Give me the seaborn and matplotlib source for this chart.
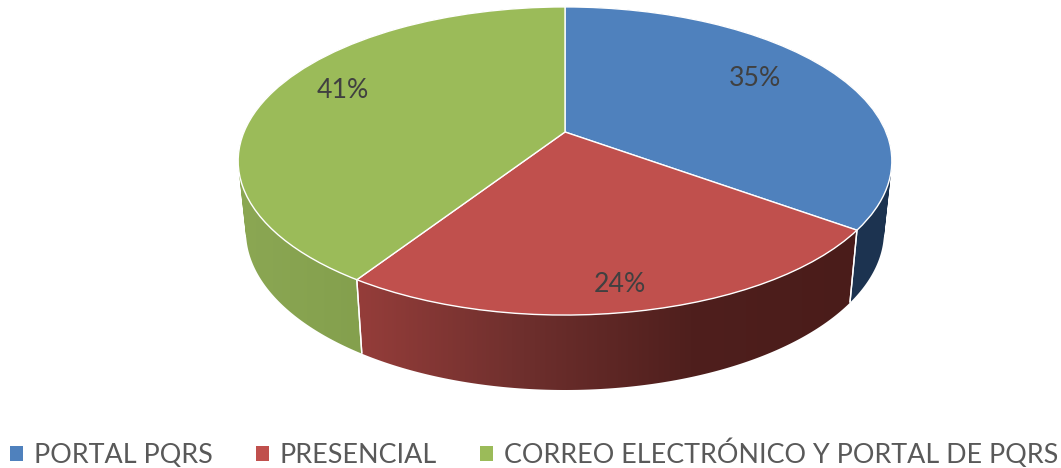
import numpy as np
import matplotlib
matplotlib.use("Agg")
import matplotlib.pyplot as plt
import seaborn as sns
from matplotlib.colors import LinearSegmentedColormap
from matplotlib.patches import Patch, PathPatch
from matplotlib.path import Path
from matplotlib.transforms import Transform

# ---- data ----
categories = ["PORTAL PQRS", "PRESENCIAL", "CORREO ELECTRÓNICO Y PORTAL DE PQRS"]
values = [35.0, 24.2, 40.8]
value_labels = ["35%", "24%", "41%"]
top_colors = ["#4F81BD", "#C0504D", "#9BBB59"]
wall_stops = [["#1D3552", "#1C3350"],
              ["#953D3A", "#6E2F2D", "#4F1F1D", "#4A1C1A"],
              ["#8BA753", "#789444"]]
label_radius = [0.745, 0.87, 0.79]
label_shift_deg = [4.5, -1.0, -5.5]

# ---- view of the tilted disc, in figure pixels ----
CX, CY, SX, SY, K = 565.0, 132.0, 321.0, 148.6, -0.188
LOW_X, LOW_Y, LOW_D = 0.976, 1.03, 69.5


class Tilt(Transform):
    input_dims = output_dims = 2
    is_separable = False
    has_inverse = False
    is_affine = False

    def transform_non_affine(self, pts):
        pts = np.asarray(pts, float)
        u, v = pts[:, 0], -pts[:, 1]
        w = 1 + K * v
        return np.column_stack([CX + SX * u / w, CY + SY * v / w])


sns.set_theme(style="white")
plt.rcParams["font.family"] = ["Lato", "DejaVu Sans"]
palette = sns.color_palette(top_colors)

fig = plt.figure(figsize=(10.61, 4.68), dpi=100)
ax = fig.add_axes([0, 0, 1, 1])
tilt = Tilt()

wedges, _, autotexts = ax.pie(
    values, colors=palette, startangle=90, counterclock=False,
    autopct="%.0f%%", pctdistance=0.8,
    wedgeprops=dict(edgecolor="white", linewidth=1.0, zorder=5),
    textprops=dict(color="#404040", fontsize=19.2, zorder=6),
)
ax.set_aspect("auto")
ax.set_xlim(0, 1061)
ax.set_ylim(468, 0)
ax.axis("off")

for w, t, lab, r, sh in zip(wedges, autotexts, value_labels, label_radius, label_shift_deg):
    w.set_transform(tilt + ax.transData)
    t.set_text(lab)
    a = np.radians((w.theta1 + w.theta2) / 2 + sh)
    t.set_position((r * np.cos(a), r * np.sin(a)))
    t.set_transform(tilt + ax.transData)


def rims(w):
    a = np.radians(np.linspace(w.theta1, w.theta2, 200))
    top = tilt.transform_non_affine(np.column_stack([np.cos(a), np.sin(a)]))
    low = np.column_stack([CX + LOW_X * (top[:, 0] - CX),
                           CY + LOW_D + LOW_Y * (top[:, 1] - CY)])
    return top, low


def swept_path(top, low):
    """Outline of the wall as a union of same-winding quads between the rims."""
    verts, codes = [], []
    for i in range(len(top) - 1):
        q = np.array([top[i], top[i + 1], low[i + 1], low[i]])
        area = np.sum(q[:, 0] * np.roll(q[:, 1], -1) - np.roll(q[:, 0], -1) * q[:, 1])
        if area < 0:
            q = q[::-1]
        verts += list(q) + [q[0]]
        codes += [Path.MOVETO, Path.LINETO, Path.LINETO, Path.LINETO, Path.CLOSEPOLY]
    return Path(np.array(verts), codes)


for w, stops in zip(wedges, wall_stops):
    top, low = rims(w)
    poly = np.vstack([top, low])
    x0, x1 = poly[:, 0].min(), poly[:, 0].max()
    y0, y1 = poly[:, 1].min(), poly[:, 1].max()
    cmap = LinearSegmentedColormap.from_list("wall", stops)
    im = ax.imshow(np.linspace(0, 1, 256)[None, :], cmap=cmap, aspect="auto",
                   extent=(x0, x1, y1, y0), zorder=2, interpolation="bilinear")
    clip = PathPatch(swept_path(top, low), transform=ax.transData, fill=False, edgecolor="none")
    ax.add_patch(clip)
    im.set_clip_path(clip)
    for end in (0, -1):
        ax.plot([top[end, 0], low[end, 0]], [top[end, 1], low[end, 1]],
                color="white", lw=1.0, zorder=3, solid_capstyle="butt")

ax.set_xlim(0, 1061)
ax.set_ylim(468, 0)

handles = [Patch(facecolor=c, edgecolor="none") for c in palette]
fig.legend(handles, categories, loc="lower left", bbox_to_anchor=(0.002, -0.018),
           bbox_transform=fig.transFigure, ncol=3, frameon=False,
           fontsize=19.4, labelcolor="#595959", handlelength=0.48, handleheight=0.48,
           handletextpad=0.41, columnspacing=1.595, borderaxespad=0, borderpad=0.3)

fig.savefig("out.png", dpi=100, facecolor="white")
